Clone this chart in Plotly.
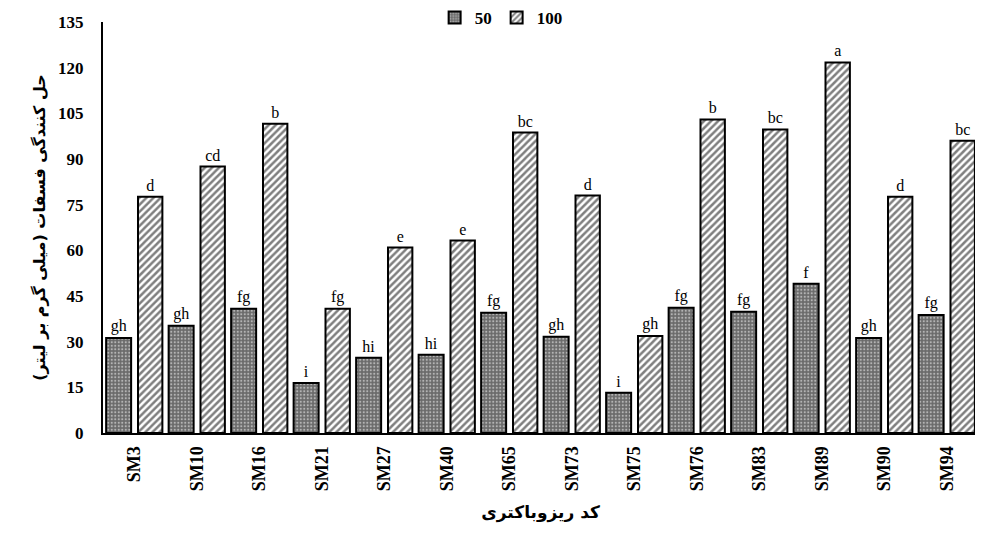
import plotly.graph_objects as go

categories = ["SM3", "SM10", "SM16", "SM21", "SM27", "SM40", "SM65", "SM73", "SM75", "SM76", "SM83", "SM89", "SM90", "SM94"]
vals_50 = [31.2, 35.2, 40.8, 16.4, 24.7, 25.7, 39.5, 31.6, 13.2, 41.1, 39.8, 49.0, 31.2, 38.8]
vals_100 = [77.6, 87.5, 101.6, 40.8, 60.9, 63.2, 98.7, 78.0, 31.9, 103.0, 99.7, 121.7, 77.6, 96.0]
letters_50 = ["gh", "gh", "fg", "i", "hi", "hi", "fg", "gh", "i", "fg", "fg", "f", "gh", "fg"]
letters_100 = ["d", "cd", "b", "fg", "e", "e", "bc", "d", "gh", "b", "bc", "a", "d", "bc"]
series_names = ["50", "100"]
y_ticks = [0, 15, 30, 45, 60, 75, 90, 105, 120, 135]
x_title = "کد ریزوباکتری"
y_title = "حل کنندگی فسفات (میلی گرم بر لیتر)"

serif = "Liberation Serif, Times New Roman, serif"
persian = "DejaVu Sans, Noto Sans, sans-serif"

fig = go.Figure()
fig.add_trace(go.Bar(
    x=categories, y=vals_50, name=series_names[0],
    width=0.4, offset=-0.45,
    marker=dict(color="#7a7a7a", line=dict(color="black", width=2),
                pattern=dict(shape=".", fgcolor="white", bgcolor="#6a6a6a", size=3.5, solidity=0.3)),
    text=letters_50, textposition="outside", cliponaxis=False,
    textfont=dict(family=serif, size=16, color="black"),
))
fig.add_trace(go.Bar(
    x=categories, y=vals_100, name=series_names[1],
    width=0.39, offset=0.06,
    marker=dict(color="white", line=dict(color="black", width=2),
                pattern=dict(shape="/", fgcolor="black", bgcolor="white", size=5, solidity=0.5)),
    text=letters_100, textposition="outside", cliponaxis=False,
    textfont=dict(family=serif, size=16, color="black"),
))

# page body has an 8px default margin, so the figure is sized to fit the window
fig.update_layout(
    width=975, height=533,
    margin=dict(l=95, r=5, t=14, b=108, autoexpand=False),
    barmode="overlay",
    plot_bgcolor="white", paper_bgcolor="white",
    showlegend=True,
    legend=dict(orientation="h", x=0.455, xanchor="center", y=1.01, yanchor="middle",
                font=dict(family=serif, size=17, color="black", weight="bold"),
                itemwidth=30, tracegroupgap=0, bgcolor="rgba(0,0,0,0)"),
    xaxis=dict(showline=True, linecolor="black", linewidth=2, ticks="", showgrid=False,
               automargin=False, ticklabelstandoff=4,
               tickangle=-90, tickfont=dict(family=serif, size=18, color="black", weight="bold"),
               title=dict(text=x_title, font=dict(family=persian, size=17, color="black", weight="bold"), standoff=16),
               range=[-0.5, 13.5]),
    yaxis=dict(showline=True, linecolor="black", linewidth=2, ticks="", showgrid=False,
               automargin=False, ticklabelstandoff=14,
               range=[0, 135], tickvals=y_ticks,
               tickfont=dict(family=serif, size=17, color="black", weight="bold"),
               title=dict(text=y_title, font=dict(family=persian, size=16, color="black", weight="bold"), standoff=8)),
    font=dict(family=serif, color="black"),
)

fig.write_html("out.html")
